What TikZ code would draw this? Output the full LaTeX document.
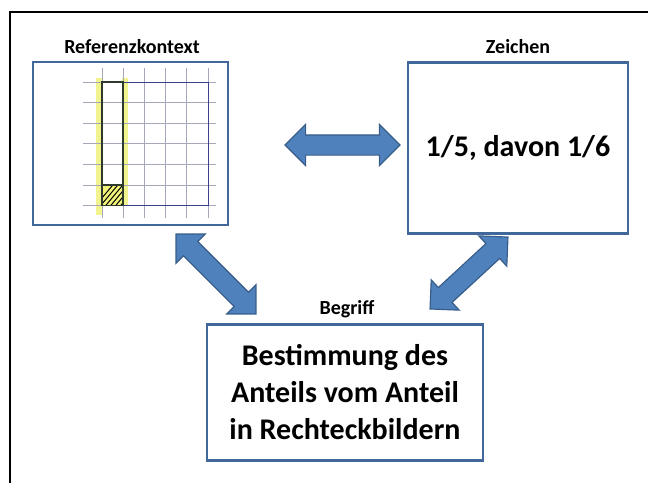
\documentclass[tikz,border=0pt]{standalone}
\usepackage{fontspec}
\setmainfont{Carlito}
\usetikzlibrary{calc,shapes.arrows}

\definecolor{boxline}{HTML}{41679B}
\definecolor{arrowfill}{HTML}{4F81BD}
\definecolor{arrowline}{HTML}{385D8A}
\definecolor{gridline}{HTML}{A4A8BA}
\definecolor{penblue}{HTML}{3A3F8E}
\definecolor{penstrip}{HTML}{2E3A2A}
\definecolor{marker}{HTML}{F0F38E}

\begin{document}
\begin{tikzpicture}[x=1pt, y=-1pt,
    box/.style={draw=boxline, line width=2.5pt, fill=white, inner sep=0pt, align=center},
    title/.style={font=\bfseries\fontsize{20}{24}\selectfont},
    bigtext/.style={font=\bfseries\fontsize{30}{37}\selectfont},
    dblarrow/.style={double arrow, draw=arrowline, fill=arrowfill, line width=1.2pt,
        inner xsep=0, inner ysep=9.5, double arrow head extend=10.5,
        double arrow head indent=0}]
    \useasboundingbox (0,0) rectangle (648,483);
    \draw[line width=1.6pt] (648,12) -- (10,12) -- (10,483);

    % the three corners
    \node[box, minimum width=195, minimum height=163] (ref) at (130.5,143.5) {};
    \node[box, bigtext, minimum width=220, minimum height=171] (sign) at (518,148) {1/5, davon 1/6};
    \node[box, bigtext, minimum width=276, minimum height=136] (conc) at (345,392.5)
        {Bestimmung des\\Anteils vom Anteil\\in Rechteckbildern};

    \node[title] (reft) at (132,47) {Referenzkontext};
    \node[title] (signt) at (518,47) {Zeichen};
    \node[title] (conct) at (347,309) {Begriff};

    % squared paper with the marked strip
    \fill[marker] (96,78) rectangle (103,215);
    \fill[marker] (122,78) rectangle (128,206);
    \fill[marker!85!yellow] (102,185) rectangle (123,206);
    \foreach \y in {0,...,6}
        \draw[gridline, line width=0.8pt] (83,82+20.6*\y) -- (216,82+20.6*\y);
    \foreach \x in {0,...,5}
        \draw[gridline, line width=0.8pt] (102+21.2*\x,68) -- (102+21.2*\x,218);
    \draw[penblue, line width=1pt] (102,82) rectangle (208,205.6);
    \begin{scope}
        \clip (102,185) rectangle (123,205.6);
        \foreach \k in {0,...,8}
            \draw[line width=1pt] (92+5*\k,210) -- (117+5*\k,180);
    \end{scope}
    \draw[penstrip, line width=1.4pt] (102,82) rectangle (123,205.6);
    \draw[penstrip, line width=1.2pt] (102,185) -- (123,185);

    % arrows between the corners
    \coordinate (h1) at (285,145);
    \coordinate (h2) at (400,145);
    \coordinate (l1) at (176,234);
    \coordinate (l2) at (256,314);
    \coordinate (r1) at (508,237);
    \coordinate (r2) at (430,309);
    \path (h1) -- node[dblarrow, sloped, minimum height=115] (ha) {} (h2);
    \path (l1) -- node[dblarrow, sloped, minimum height=113] (la) {} (l2);
    \path (r1) -- node[dblarrow, sloped, minimum height=106] (ra) {} (r2);
\end{tikzpicture}
\end{document}
